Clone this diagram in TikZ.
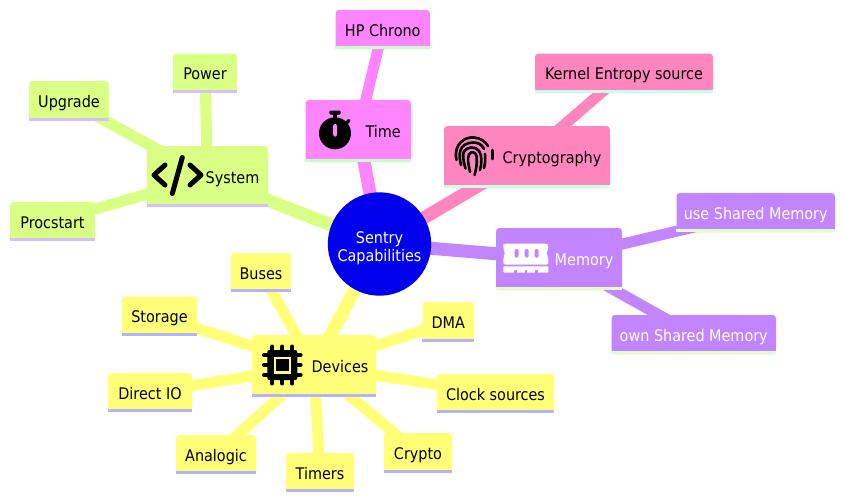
\documentclass[tikz,border=0pt]{standalone}
\usepackage{fontspec}
\setmainfont{DejaVu Sans Condensed}
\usetikzlibrary{backgrounds}
\definecolor{cdev}{HTML}{FFFF78}\definecolor{ldev}{HTML}{B3B3FF}
\definecolor{csys}{HTML}{D9FF85}\definecolor{lsys}{HTML}{D6BFFF}
\definecolor{ctim}{HTML}{FF85FF}\definecolor{ltim}{HTML}{C6FFC6}
\definecolor{ccry}{HTML}{FF85BF}\definecolor{lcry}{HTML}{C6FFE3}
\definecolor{cmem}{HTML}{C285FF}\definecolor{lmem}{HTML}{E0FFC2}
\definecolor{croot}{HTML}{0000EC}
\tikzset{
  mmbox/.style={rectangle,rounded corners=3.5pt,inner sep=0pt,text height=15pt,text depth=1.6pt,font=\fontsize{16}{18}\selectfont},
  rootnode/.style={circle,fill=croot,text=white,inner sep=0pt,minimum size=103.4pt,align=center,font=\fontsize{16}{18}\selectfont},
  main/.style={line width=13pt},
  sub/.style={line width=11pt},
  icon/.style={line cap=round,line join=round,line width=5pt}
}
\newcommand{\mmbox}[8]{%
  \node[mmbox,fill=#6,#8,minimum width={(#4-#2)*1pt},minimum height={(#5-#3)*1pt}] (#1) at ({(#2+#4)/2},{(#3+#5)/2}) {\MMtext};
  \fill[#7] ([yshift=3pt]#1.south west) rectangle (#1.south east);
}
\newcommand{\MMtext}{}
\newcommand{\mybox}[9]{\renewcommand{\MMtext}{#9}\mmbox{#1}{#2}{#3}{#4}{#5}{#6}{#7}{#8}}
\begin{document}
\begin{tikzpicture}[x=1pt,y=-1pt]
\useasboundingbox (0,0) rectangle (845,501);
\node[rootnode] (root) at (379.5,244) {\rule{0pt}{20pt}Sentry\\Capabilities};
% main branches
\mybox{system}{147}{146}{268}{207}{csys}{lsys}{text=black}{\hspace*{50pt}System}
\mybox{time}{305.5}{100}{411}{162}{ctim}{ltim}{text=black}{\hspace*{50pt}Time}
\mybox{crypt}{444}{126}{610}{188}{ccry}{lcry}{text=black}{\hspace*{50pt}Cryptography}
\mybox{memory}{496}{228}{622}{290}{cmem}{lmem}{text=white}{\hspace*{50pt}Memory}
\mybox{devices}{252}{335}{376}{397}{cdev}{ldev}{text=black}{\hspace*{52pt}Devices}
% leaves
\mybox{power}{173}{53.5}{237}{93}{csys}{lsys}{text=black}{Power}
\mybox{upgrade}{29}{81}{109}{121}{csys}{lsys}{text=black}{Upgrade}
\mybox{procstart}{10}{202}{95}{241}{csys}{lsys}{text=black}{Procstart}
\mybox{chrono}{335.5}{10}{430}{49}{ctim}{ltim}{text=black}{HP Chrono}
\mybox{kernel}{535}{53.5}{713}{92.5}{ccry}{lcry}{text=black}{Kernel Entropy source}
\mybox{useshm}{676.5}{193}{835}{232}{cmem}{lmem}{text=white}{use Shared Memory}
\mybox{ownshm}{611.5}{315}{776}{354}{cmem}{lmem}{text=white}{own Shared Memory}
\mybox{buses}{231}{253}{291}{292}{cdev}{ldev}{text=black}{Buses}
\mybox{storage}{122}{296.5}{197}{336}{cdev}{ldev}{text=black}{Storage}
\mybox{directio}{108}{373}{192}{412}{cdev}{ldev}{text=black}{Direct IO}
\mybox{analogic}{176}{435}{256}{474}{cdev}{ldev}{text=black}{Analogic}
\mybox{timers}{286}{453}{354}{492}{cdev}{ldev}{text=black}{Timers}
\mybox{dma}{422.5}{302}{474}{342}{cdev}{ldev}{text=black}{DMA}
\mybox{clock}{437}{374}{554}{413}{cdev}{ldev}{text=black}{Clock sources}
\mybox{cryptod}{384}{433}{452}{473}{cdev}{ldev}{text=black}{Crypto}
% connectors
\begin{scope}[on background layer]
\fill[white] (0,0) rectangle (845,501);
\draw[main,csys] (root.center) -- (system.center);
\draw[main,ctim] (root.center) -- (time.center);
\draw[main,ccry] (root.center) -- (crypt.center);
\draw[main,cmem] (root.center) -- (memory.center);
\draw[main,cdev] (root.center) -- (devices.center);
\foreach \a in {power,upgrade,procstart} \draw[sub,csys] (system.center) -- (\a.center);
\draw[sub,ctim] (time.center) -- (chrono.center);
\draw[sub,ccry] (crypt.center) -- (kernel.center);
\foreach \a in {useshm,ownshm} \draw[sub,cmem] (memory.center) -- (\a.center);
\foreach \a in {buses,storage,directio,analogic,timers,dma,clock,cryptod} \draw[sub,cdev] (devices.center) -- (\a.center);
\end{scope}
% icon: code
\draw[icon,black] (165,165) -- (154,175) -- (165,185);
\draw[icon,black] (182.3,157.5) -- (172.3,193.5);
\draw[icon,black] (190,165) -- (201,175) -- (190,185);
% icon: stopwatch
\fill[black] (335,133.3) circle[radius=16];
\fill[black,rounded corners=1pt] (329.3,110.7) rectangle (340.7,114.5);
\fill[black] (332.7,114) rectangle (337.3,119);
\draw[black,line width=3.5pt,line cap=round] (346.5,123) -- (349,120.5);
\fill[ctim,rounded corners=1.5pt] (333.2,124) rectangle (337,136.7);
% icon: fingerprint
\begin{scope}[black,line width=2.6pt,line cap=round]
\draw (456.5,160) .. controls (453,143) and (466,136.5) .. (474,137.5) .. controls (480,138) and (485,141) .. (488,146);
\draw (461,165) .. controls (458.5,155) and (458,143) .. (473.5,142.5) .. controls (478,142.5) and (482,144.5) .. (484,149);
\draw (465.5,168.5) .. controls (463,160) and (462.5,155) .. (464,151.5) .. controls (466.5,146.5) and (476,146) .. (479,151) .. controls (482,155) and (482,163) .. (480,170);
\draw (470,172) .. controls (468.5,164) and (467,159) .. (469,154.5) .. controls (471,150.5) and (476,152) .. (476.5,156) .. controls (477.5,163) and (476,170) .. (474.5,175);
\draw (492.5,150) -- (492.5,159);
\draw (485,154) .. controls (485.5,160) and (485,165) .. (484,168);
\end{scope}
% icon: memory
\fill[white,rounded corners=2pt] (504,243.5) -- (546.5,243.5) -- (548.3,245) -- (548.3,249.5) -- (546.5,251.5) -- (546.5,255) -- (548.3,257) -- (548.3,264.5) -- (503.3,264.5) -- (503.3,257) -- (505,255) -- (505,251.5) -- (503.3,249.5) -- (503.3,245) -- cycle;
\foreach \x in {516.5,526.7,536.7}
  \fill[cmem,rounded corners=1.5pt] (\x-2,249) rectangle (\x+2,257.7);
\fill[white,rounded corners=1pt] (503.3,266.3) -- (548.3,266.3) -- (548.3,272.7) -- (503.3,272.7) -- cycle;
\foreach \x in {515.5,526,536.5}
  \fill[cmem] (\x-1.2,269.5) rectangle (\x+1.2,273);
% icon: chip
\foreach \d in {-10,0,10} {
  \draw[black,line width=4pt,line cap=round] (282.3+\d,346.5) -- (282.3+\d,383.5);
  \draw[black,line width=4pt,line cap=round] (264,365+\d) -- (300.6,365+\d);
}
\fill[black,rounded corners=2pt] (267.3,350) rectangle (297.3,380);
\fill[cdev] (274,356.7) rectangle (291,373.5);
\fill[black] (276.2,358.9) rectangle (288.8,371.3);
\end{tikzpicture}
\end{document}
